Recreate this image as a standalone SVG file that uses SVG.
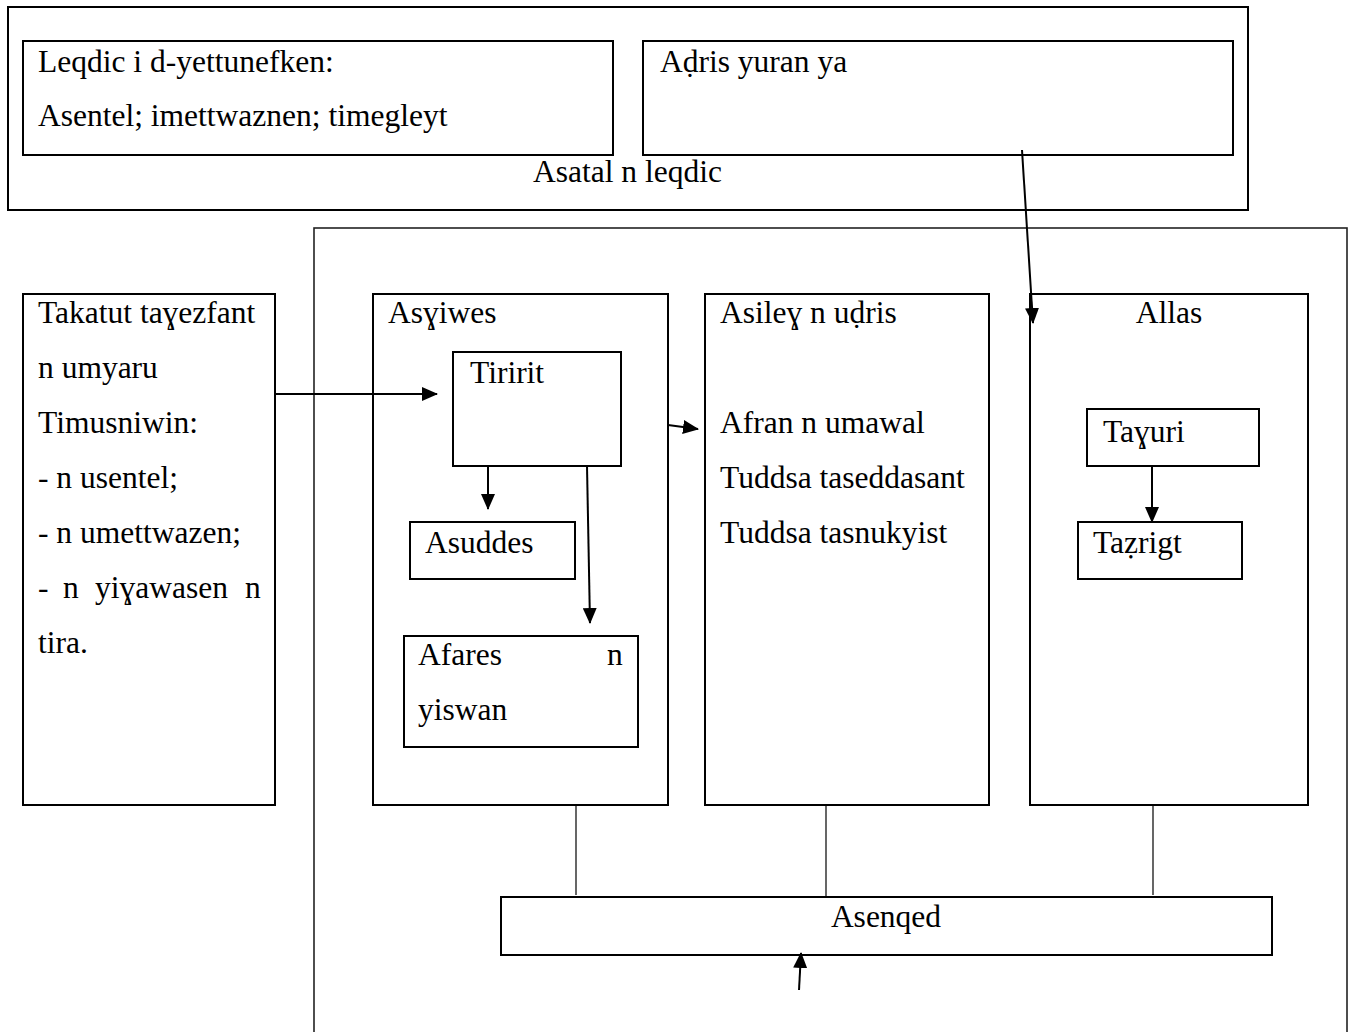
<svg xmlns="http://www.w3.org/2000/svg" width="1354" height="1032" viewBox="0 0 1354 1032">
<defs>
<style>
.box{fill:none;stroke:#000;stroke-width:2}
.frame{fill:none;stroke:#222;stroke-width:1.6}
.t{font-family:"Liberation Serif","DejaVu Serif",serif;font-size:31.5px;fill:#000}
.c{stroke:#000;stroke-width:2;fill:none}
.thin{stroke:#000;stroke-width:1.2;fill:none}
</style>
<marker id="ah" viewBox="0 0 16 14" refX="15" refY="7" markerWidth="16" markerHeight="14" markerUnits="userSpaceOnUse" orient="auto">
<path d="M0,0 L16,7 L0,14 Z" fill="#000"/>
</marker>
</defs>
<rect width="1354" height="1032" fill="#fff"/>

<g id="asatal">
<rect class="box" x="8" y="7" width="1240" height="203"/>
<text class="t" x="533" y="182">Asatal n leqdic</text>
</g>
<g id="leqdic">
<rect class="box" x="23" y="41" width="590" height="114"/>
<text class="t" x="38" y="72">Leqdic i d-yettunefken:</text>
<text class="t" x="38" y="126">Asentel; imettwaznen; timegleyt</text>
</g>
<g id="adris">
<rect class="box" x="643" y="41" width="590" height="114"/>
<text class="t" x="660" y="72">Aḍris yuran ya</text>
</g>

<g id="main-frame">
<rect class="frame" x="314" y="228" width="1033" height="830"/>
</g>

<g id="takatut">
<rect class="box" x="23" y="294" width="252" height="511"/>
<text class="t" x="38" y="323">Takatut taɣezfant</text>
<text class="t" x="38" y="378">n umyaru</text>
<text class="t" x="38" y="433">Timusniwin:</text>
<text class="t" x="38" y="488">- n usentel;</text>
<text class="t" x="38" y="543">- n umettwazen;</text>
<text class="t" x="38" y="598">-<tspan x="63">n</tspan><tspan x="95">yiɣawasen</tspan><tspan x="245">n</tspan></text>
<text class="t" x="38" y="653">tira.</text>
</g>

<g id="asghiwes">
<rect class="box" x="373" y="294" width="295" height="511"/>
<text class="t" x="388" y="323">Asɣiwes</text>
</g>
<g id="tiririt">
<rect class="box" x="453" y="352" width="168" height="114"/>
<text class="t" x="470" y="383">Tiririt</text>
</g>
<g id="asuddes">
<rect class="box" x="410" y="522" width="165" height="57"/>
<text class="t" x="425" y="553">Asuddes</text>
</g>
<g id="afares">
<rect class="box" x="404" y="636" width="234" height="111"/>
<text class="t" x="418" y="665">Afares</text>
<text class="t" x="607" y="665">n</text>
<text class="t" x="418" y="720">yiswan</text>
</g>

<g id="asilegh">
<rect class="box" x="705" y="294" width="284" height="511"/>
<text class="t" x="720" y="323">Asileɣ n uḍris</text>
<text class="t" x="720" y="433">Afran n umawal</text>
<text class="t" x="720" y="488">Tuddsa taseddasant</text>
<text class="t" x="720" y="543">Tuddsa tasnukyist</text>
</g>

<g id="allas">
<rect class="box" x="1030" y="294" width="278" height="511"/>
<text class="t" x="1169" y="323" text-anchor="middle">Allas</text>
</g>
<g id="taghuri">
<rect class="box" x="1087" y="409" width="172" height="57"/>
<text class="t" x="1103" y="442">Taɣuri</text>
</g>
<g id="tazrigt">
<rect class="box" x="1078" y="522" width="164" height="57"/>
<text class="t" x="1093" y="553">Taẓrigt</text>
</g>

<g id="asenqed">
<rect class="box" x="501" y="897" width="771" height="58"/>
<text class="t" x="886" y="927" text-anchor="middle">Asenqed</text>
</g>

<g id="connectors">
<line class="c" x1="275" y1="394" x2="437" y2="394" marker-end="url(#ah)"/>
<line class="c" x1="488" y1="466" x2="488" y2="509" marker-end="url(#ah)"/>
<line class="c" x1="587" y1="466" x2="590" y2="623" marker-end="url(#ah)"/>
<line class="c" x1="668" y1="425" x2="698" y2="429" marker-end="url(#ah)"/>
<line class="c" x1="1022" y1="150" x2="1033" y2="323" marker-end="url(#ah)"/>
<line class="c" x1="1152" y1="466" x2="1152" y2="522" marker-end="url(#ah)"/>
<line class="thin" x1="576" y1="805" x2="576" y2="895"/>
<line class="thin" x1="826" y1="805" x2="826" y2="897"/>
<line class="thin" x1="1153" y1="805" x2="1153" y2="895"/>
<line class="c" x1="799" y1="990" x2="801" y2="953" marker-end="url(#ah)"/>
</g>
</svg>
